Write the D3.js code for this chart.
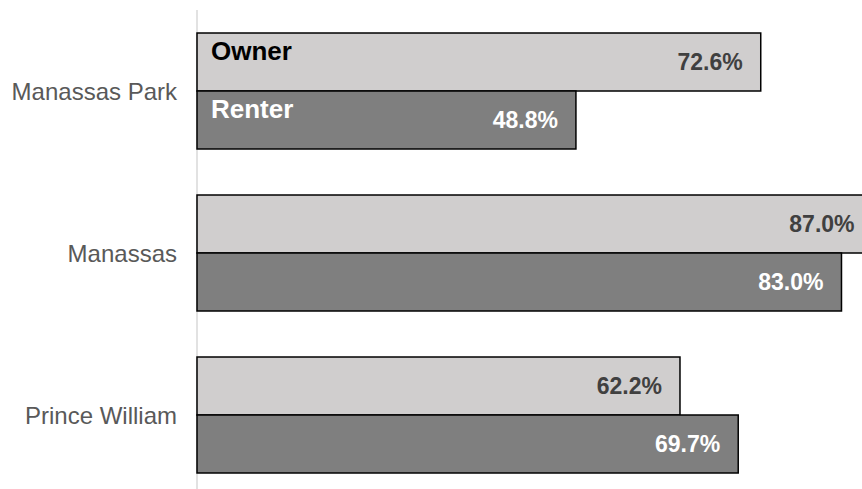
<!DOCTYPE html>
<html>
<head>
<meta charset="utf-8">
<script src="https://cdn.jsdelivr.net/npm/d3@7"></script>
<style>
  body { margin: 0; background: #fff; }
  svg { display: block; font-family: "Liberation Sans", Arial, sans-serif; }
</style>
</head>
<body>
<div id="chart"></div>
<script>
// chart size, same as the window
const width = 862;
const height = 489;

// data
const places = ["Manassas Park", "Manassas", "Prince William"];
const series = ["Owner", "Renter"];
const ownerValues = [72.6, 87.0, 62.2];
const renterValues = [48.8, 83.0, 69.7];

// colours for the two series
const fills = ["#d0cece", "#7f7f7f"];
const labelColors = ["#404040", "#ffffff"];
const nameColors = ["#000000", "#ffffff"];

// rows for the bars
const rows = [];
places.forEach(function(p, i) {
  rows.push({ place: p, series: "Owner", value: ownerValues[i] });
  rows.push({ place: p, series: "Renter", value: renterValues[i] });
});

const svg = d3.select("#chart")
  .append("svg")
  .attr("width", width)
  .attr("height", height);

// x runs past the right edge, so the biggest bar gets cut off like the original
const x = d3.scaleLinear()
  .domain([0, 100])
  .range([197, 197 + 776.5]);

// one band per place, then a band per series inside it
const y = d3.scaleBand()
  .domain(places)
  .range([10, 496])
  .paddingInner(0.284)
  .paddingOuter(0.142);

const ySub = d3.scaleBand()
  .domain(series)
  .range([0, y.bandwidth()]);

const color = d3.scaleOrdinal().domain(series).range(fills);
const labelColor = d3.scaleOrdinal().domain(series).range(labelColors);
const nameColor = d3.scaleOrdinal().domain(series).range(nameColors);

// the vertical axis line
svg.append("line")
  .attr("x1", x(0))
  .attr("x2", x(0))
  .attr("y1", 10)
  .attr("y2", height)
  .attr("stroke", "#d9d9d9")
  .attr("stroke-width", 1.5);

// bars
svg.selectAll("rect.bar")
  .data(rows)
  .enter()
  .append("rect")
  .attr("class", "bar")
  .attr("x", x(0))
  .attr("y", function(d) { return y(d.place) + ySub(d.series); })
  .attr("width", function(d) { return x(d.value) - x(0); })
  .attr("height", ySub.bandwidth())
  .attr("fill", function(d) { return color(d.series); })
  .attr("stroke", "#000")
  .attr("stroke-width", 1.5);

// value labels inside the bar ends
svg.selectAll("text.value")
  .data(rows)
  .enter()
  .append("text")
  .attr("class", "value")
  .attr("x", function(d) { return x(d.value) - 18; })
  .attr("y", function(d) { return y(d.place) + ySub(d.series) + ySub.bandwidth() / 2; })
  .attr("dy", "0.36em")
  .attr("text-anchor", "end")
  .style("font-size", "23px")
  .style("font-weight", "bold")
  .style("fill", function(d) { return labelColor(d.series); })
  .text(function(d) { return d.value.toFixed(1) + "%"; });

// series names in the first group stand in for a legend
svg.selectAll("text.name")
  .data(series)
  .enter()
  .append("text")
  .attr("class", "name")
  .attr("x", x(0) + 14)
  .attr("y", function(d) { return y(places[0]) + ySub(d) + 26.5; })
  .style("font-size", "26px")
  .style("font-weight", "bold")
  .style("fill", function(d) { return nameColor(d); })
  .text(function(d) { return d; });

// category labels on the left
svg.selectAll("text.place")
  .data(places)
  .enter()
  .append("text")
  .attr("class", "place")
  .attr("x", 177)
  .attr("y", function(d) { return y(d) + y.bandwidth() / 2; })
  .attr("dy", "0.36em")
  .attr("text-anchor", "end")
  .style("font-size", "24px")
  .style("fill", "#595959")
  .text(function(d) { return d; });
</script>
</body>
</html>
